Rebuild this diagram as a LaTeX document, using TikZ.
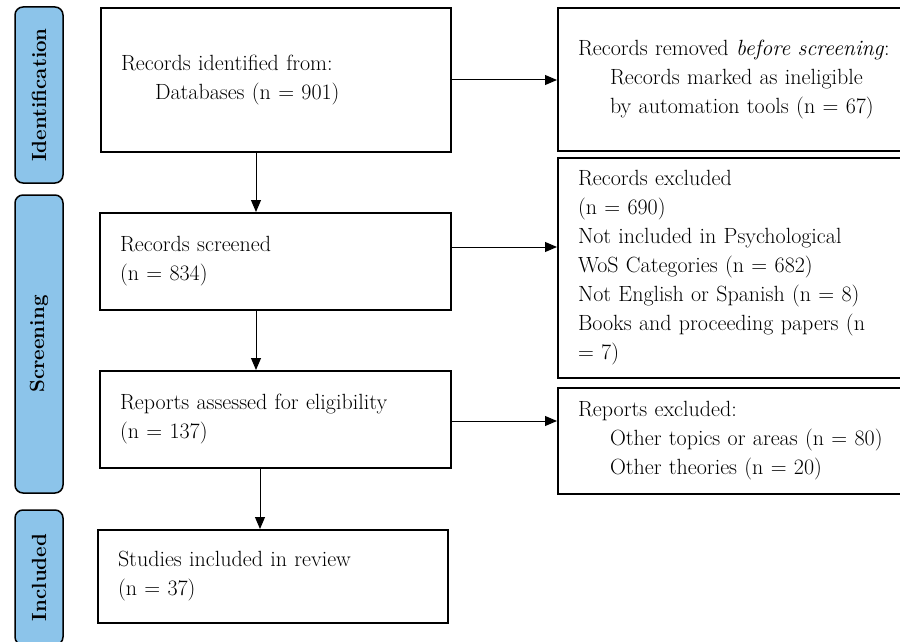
\documentclass[tikz,border=0pt]{standalone}
\usetikzlibrary{arrows.meta}
\definecolor{phaseblue}{RGB}{140,196,234}
\begin{document}
\begin{tikzpicture}[x=1pt,y=-1pt,
  flowbox/.style={draw=black, line width=2pt, rectangle, anchor=north west,
    inner xsep=20pt, inner ysep=0pt, align=left,
    font=\fontsize{22}{29}\selectfont},
  phase/.style={draw=black, line width=1.5pt, fill=phaseblue,
    rounded corners=8pt, rotate=90, inner sep=0pt, minimum height=48pt,
    font=\fontsize{20.5}{22}\selectfont\bfseries},
  flowarrow/.style={line width=1pt, -{Triangle[length=12pt,width=10pt]}}]
\useasboundingbox (0,0) rectangle (900,642);
\clip (0,0) rectangle (900,642);

% phase bars on the left
\node[phase, minimum width=176pt] (pid) at (39,95) {Identification};
\node[phase, minimum width=298pt] (psc) at (39,344) {Screening};
\node[phase, minimum width=135pt] (pin) at (39,577.5) {Included};

% main column
\node[flowbox, minimum height=144pt, text width=310pt] (b1) at (100,7)
  {Records identified from:\\\hspace*{34pt}Databases (n = 901)};
\node[flowbox, minimum height=97pt, text width=311pt] (b2) at (99,212)
  {Records screened\\(n = 834)};
\node[flowbox, minimum height=97pt, text width=311pt] (b3) at (99,370)
  {Reports assessed for eligibility\\(n = 137)};
\node[flowbox, minimum height=93pt, text width=310pt] (b4) at (97,529)
  {Studies included in review\\(n = 37)};

% exclusion column (runs past the right edge)
\node[flowbox, minimum height=143pt, text width=333pt] (rA) at (557,7)
  {Records removed \textit{before screening}:\\
   \hspace*{32pt}Records marked as ineligible\\
   \hspace*{32pt}by automation tools (n = 67)};
\node[flowbox, minimum height=220pt, text width=333pt] (rB) at (557,157)
  {Records excluded\\(n = 690)\\Not included in Psychological\\
   WoS Categories (n = 682)\\Not English or Spanish (n = 8)\\
   Books and proceeding papers (n\\= 7)};
\node[flowbox, minimum height=106pt, text width=333pt] (rC) at (557,387)
  {Reports excluded:\\
   \hspace*{32pt}Other topics or areas (n = 80)\\
   \hspace*{32pt}Other theories (n = 20)};

% connectors
\coordinate (vx1) at (256,0);
\coordinate (vx2) at (260,0);
\coordinate (hy2) at (0,247);
\coordinate (hy3) at (0,421);
\draw[flowarrow] (vx1 |- b1.south) -- (vx1 |- b2.north);
\draw[flowarrow] (vx1 |- b2.south) -- (vx1 |- b3.north);
\draw[flowarrow] (vx2 |- b3.south) -- (vx2 |- b4.north);
\draw[flowarrow] (b1.east) -- (rA.west |- b1.east);
\draw[flowarrow] (b2.east |- hy2) -- (rB.west |- hy2);
\draw[flowarrow] (b3.east |- hy3) -- (rC.west |- hy3);
\end{tikzpicture}
\end{document}
